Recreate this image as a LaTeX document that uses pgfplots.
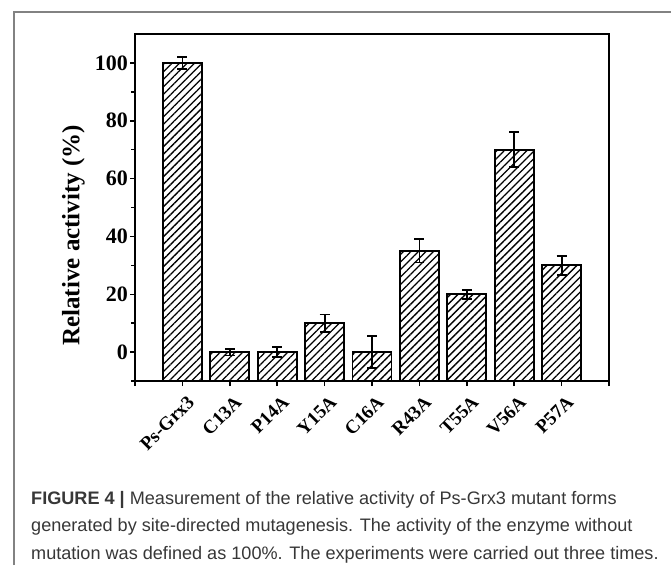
\documentclass[border=0pt]{standalone}
\usepackage{fontspec}
\setmainfont{Liberation Serif}
\newfontfamily\capfont{Liberation Sans}
\usepackage{pgfplots}
\pgfplotsset{compat=1.18}
\usetikzlibrary{patterns.meta}
\definecolor{framegray}{RGB}{130,130,130}
\definecolor{captext}{RGB}{55,55,55}
\begin{document}
\begin{tikzpicture}
\path[use as bounding box] (0pt,0pt) rectangle (671pt,-565pt);
\draw[framegray, line width=1.2pt] (14pt,-565pt) -- (14pt,-12pt) -- (671pt,-12pt);
\begin{axis}[
  at={(135pt,-381pt)}, anchor=south west,
  scale only axis, width=474pt, height=347pt,
  xmin=-1, xmax=9, ymin=-10, ymax=110,
  y coord trafo/.code={\pgfmathparse{#1+10}},
  y coord inv trafo/.code={\pgfmathparse{#1-10}},
  axis line style={line width=1.8pt},
  ytick={0,20,40,60,80,100},
  minor ytick={-10,10,30,50,70,90},
  xtick={-1,0,1,2,3,4,5,6,7,8,9},
  xticklabels={,Ps-Grx3,C13A,P14A,Y15A,C16A,R43A,T55A,V56A,P57A,},
  tick pos=left, tick align=outside,
  major tick length=5pt, minor tick length=4pt,
  tick style={line width=1.5pt, black},
  /pgf/number format/assume math mode=true,
  x tick label style={xshift=4pt, yshift=-7pt, rotate=45, anchor=north east, font=\bfseries\fontsize{19}{19}\selectfont, inner sep=1pt},
  y tick label style={font=\bfseries\fontsize{22}{22}\selectfont, inner sep=2pt},
  ylabel={Relative activity (\%)},
  ylabel style={at={(axis description cs:-0.13,0.42)}, anchor=center, rotate=0, font=\bfseries\fontsize{25}{25}\selectfont},
  clip=false,
]
\addplot[ybar, bar width=39pt, bar shift=0pt, draw=black, line width=1.8pt,
  pattern={Lines[angle=45,distance=5.3pt,line width=1.3pt]},
  error bars/.cd, y dir=both, y explicit,
  error bar style={line width=1.8pt, black},
  error mark options={line width=1.8pt, mark size=5pt, rotate=90}]
coordinates {
(0,100) +- (0,2)
(1,0) +- (0,1.2)
(2,0) +- (0,1.7)
(3,10) +- (0,3)
(4,0) +- (0,5.6)
(5,35) +- (0,4)
(6,20) +- (0,1.6)
(7,70) +- (0,6)
(8,30) +- (0,3.3)
};
\end{axis}
\begin{scope}[captext, font=\capfont\fontsize{18.1}{18.1}\selectfont]
\node[anchor=base west, inner sep=0pt] at (31pt,-504pt) {\textbf{FIGURE 4 |} Measurement of the relative activity of Ps-Grx3 mutant forms};
\node[anchor=base west, inner sep=0pt] at (31pt,-531.5pt) {generated by site-directed mutagenesis. The activity of the enzyme without};
\node[anchor=base west, inner sep=0pt] at (31pt,-559pt) {mutation was defined as 100\%. The experiments were carried out three times.};
\end{scope}
\end{tikzpicture}
\end{document}
